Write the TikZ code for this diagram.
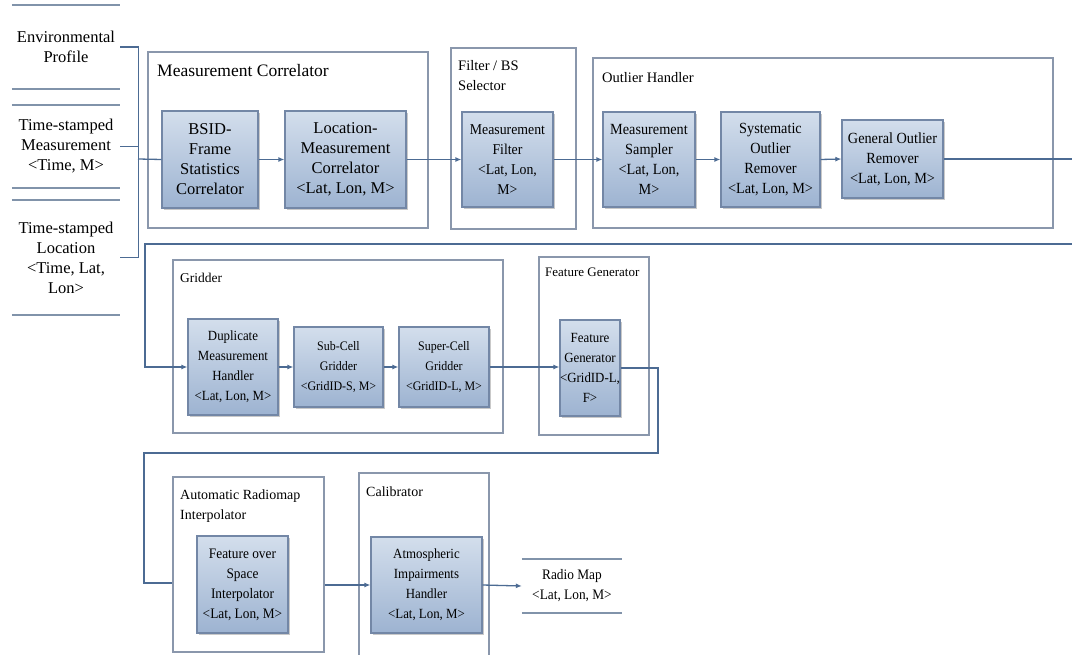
\documentclass[tikz,border=0pt]{standalone}
\usepackage{fontspec}
\setmainfont{Liberation Serif}
\newfontfamily\narrowserif{Liberation Serif}[FakeStretch=0.92]
\usetikzlibrary{arrows.meta,shadows}
\definecolor{boxtop}{HTML}{D3DEEC}
\definecolor{boxbot}{HTML}{9DB3D1}
\definecolor{boxline}{HTML}{7387A6}
\definecolor{ctrline}{HTML}{8A97AC}
\definecolor{connc}{HTML}{4C6B93}
\definecolor{storec}{HTML}{8193AA}
\begin{document}
\begin{tikzpicture}[x=1pt,y=-1pt,
  bx/.style={draw=boxline, line width=1.2pt, top color=boxtop, bottom color=boxbot,
    inner sep=0pt, align=center, font=\narrowserif\fontsize{14}{20}\selectfont,
    drop shadow={shadow xshift=2pt, shadow yshift=-2pt, opacity=0.35, fill=black!60}},
  bigbx/.style={bx, font=\fontsize{16.5}{20}\selectfont},
  midbx/.style={bx, font=\narrowserif\fontsize{15.5}{20}\selectfont},
  smallbx/.style={bx, font=\narrowserif\fontsize{13}{20}\selectfont},
  ctr/.style={draw=ctrline, line width=1.3pt, fill=white, inner sep=0pt,
    drop shadow={shadow xshift=1.2pt, shadow yshift=-1.2pt, opacity=0.3, fill=black!50}},
  ttl/.style={anchor=north west, inner sep=0pt, align=left, font=\fontsize{14.5}{20}\selectfont},
  storeline/.style={draw=storec, line width=1.8pt},
  store/.style={inner sep=0pt, align=center, font=\fontsize{16.5}{20}\selectfont,
    append after command={(\tikzlastnode.north west) edge[storeline] (\tikzlastnode.north east)
      (\tikzlastnode.south west) edge[storeline] (\tikzlastnode.south east)}},
  conn/.style={draw=connc, line width=1.3pt},
  arr/.style={conn, -{Latex[length=6pt,width=5pt]}}]
\useasboundingbox (0,0) rectangle (1072,655);
\clip (0,0) rectangle (1072,655);
\fill[white] (0,0) rectangle (1072,655);

% data stores (inputs)
\node[store, minimum width=108pt, minimum height=84pt] (env) at (66,47) {Environmental\\Profile};
\node[store, minimum width=108pt, minimum height=83pt] (meas) at (66,146.5) {Time-stamped\\Measurement\\{<}Time, M{>}};
\node[store, minimum width=108pt, minimum height=115pt] (loc) at (66,257.5) {Time-stamped\\Location\\{<}Time, Lat,\\Lon{>}};

% containers
\node[ctr, minimum width=280pt, minimum height=176pt] (mcC) at (288,140) {};
\node[ttl, font=\fontsize{17.5}{20}\selectfont] (mcT) at (157,64) {Measurement Correlator};
\node[ctr, minimum width=125pt, minimum height=181pt] (fbC) at (513.5,138.5) {};
\node[ttl] (fbT) at (458,60) {Filter / BS\\Selector};
\node[ctr, minimum width=460pt, minimum height=170pt] (ohC) at (823,143) {};
\node[ttl] (ohT) at (602,72) {Outlier Handler};
\node[ctr, minimum width=330pt, minimum height=173pt] (grC) at (338,346.5) {};
\node[ttl, font=\fontsize{13.5}{20}\selectfont] (grT) at (180,273) {Gridder};
\node[ctr, minimum width=110pt, minimum height=178pt] (fgC) at (594,346) {};
\node[ttl, font=\fontsize{13}{20}\selectfont] (fgT) at (545,268) {Feature Generator};
\node[ctr, minimum width=151pt, minimum height=175pt] (ariC) at (248.5,564.5) {};
\node[ttl, font=\fontsize{14}{20}\selectfont] (ariT) at (180,490) {Automatic Radiomap\\Interpolator};
\node[ctr, minimum width=130pt, minimum height=197pt] (calC) at (424,571.5) {};
\node[ttl, font=\fontsize{14}{20}\selectfont] (calT) at (366,487) {Calibrator};

% process boxes
\node[bigbx, minimum width=96pt, minimum height=97pt] (bsid) at (210,159.5) {BSID-\\Frame\\Statistics\\Correlator};
\node[bigbx, minimum width=121pt, minimum height=97pt] (lmc) at (345.5,159.5) {Location-\\Measurement\\Correlator\\{<}Lat, Lon, M{>}};
\node[bx, font=\narrowserif\fontsize{15}{20}\selectfont, minimum width=91pt, minimum height=95pt] (mf) at (507.5,159.5) {Measurement\\Filter\\{<}Lat, Lon,\\M{>}};
\node[midbx, minimum width=92pt, minimum height=95pt] (ms) at (649,159.5) {Measurement\\Sampler\\{<}Lat, Lon,\\M{>}};
\node[midbx, minimum width=99pt, minimum height=95pt] (sor) at (770.5,159.5) {Systematic\\Outlier\\Remover\\{<}Lat, Lon, M{>}};
\node[midbx, minimum width=101pt, minimum height=78pt] (gor) at (892.5,159) {General Outlier\\Remover\\{<}Lat, Lon, M{>}};
\node[bx, minimum width=90pt, minimum height=96pt] (dup) at (233,367) {Duplicate\\Measurement\\Handler\\{<}Lat, Lon, M{>}};
\node[smallbx, minimum width=89pt, minimum height=80pt] (sub) at (338.5,367) {Sub-Cell\\Gridder\\{<}GridID-S, M{>}};
\node[smallbx, minimum width=90pt, minimum height=80pt] (sup) at (444,367) {Super-Cell\\Gridder\\{<}GridID-L, M{>}};
\node[bx, minimum width=60pt, minimum height=96pt] (fg) at (590,368) {Feature\\Generator\\{<}GridID-L,\\F{>}};
\node[bx, font=\narrowserif\fontsize{14.5}{20}\selectfont, minimum width=91pt, minimum height=97pt] (fos) at (242.5,584.5) {Feature over\\Space\\Interpolator\\{<}Lat, Lon, M{>}};
\node[bx, minimum width=111pt, minimum height=96pt] (atm) at (426.5,585) {Atmospheric\\Impairments\\Handler\\{<}Lat, Lon, M{>}};

% output store
\node[store, minimum width=100pt, minimum height=54pt, font=\narrowserif\fontsize{14.5}{20}\selectfont] (radio) at (572,586) {Radio Map\\{<}Lat, Lon, M{>}};

% connectors
\coordinate (j1) at (138,159);
\draw[conn] (env.east) -- ++(18,0) |- (loc.east);
\draw[conn] (meas.east) -- (meas.east -| j1);
\draw[conn] (j1) -- (bsid.west);
\draw[arr] (bsid.east) -- (lmc.west);
\draw[arr] (lmc.east) -- (mf.west);
\draw[arr] (mf.east) -- (ms.west);
\draw[arr] (ms.east) -- (sor.west);
\draw[arr] (sor.east) -- (gor.west);
\draw[arr] (gor.east) -- (1080,159) -- (1080,244) -- (145,244) |- (dup.west);
\draw[arr] (dup.east) -- (sub.west);
\draw[arr] (sub.east) -- (sup.west);
\draw[arr] (sup.east) -- (sup.east -| fg.west);
\coordinate (k1) at (144,583);
\draw[conn] (fg.east) -- (658,368) -- (658,453) -- (144,453) -- (k1) -- (k1 -| ariC.west);
\draw[arr] (ariC.east |- atm.west) -- (atm.west);
\draw[arr] (atm.east) -- (radio.west);
\end{tikzpicture}
\end{document}
